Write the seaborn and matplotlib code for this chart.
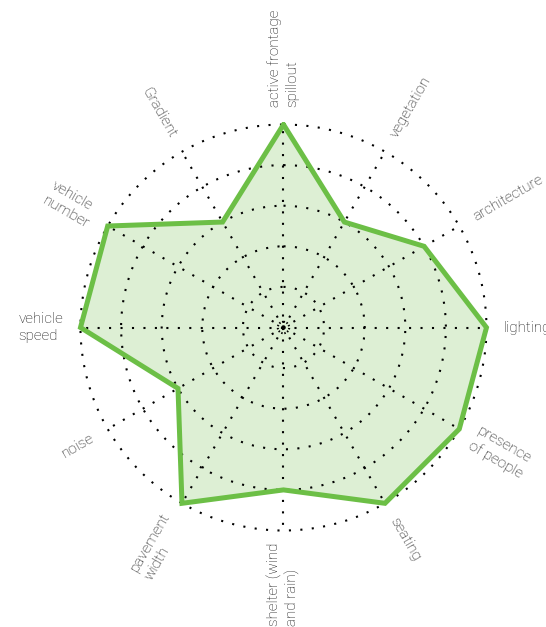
import numpy as np
import matplotlib
matplotlib.use("Agg")
import matplotlib.pyplot as plt
import seaborn as sns

categories = ["active frontage\nspillout", "vegetation", "architecture", "lighting",
              "presence\nof people", "seating", "shelter (wind\nand rain)", "pavement\nwidth",
              "noise", "vehicle\nspeed", "vehicle\nnumber", "Gradient"]
values = [5, 3, 4, 5, 5, 5, 4, 5, 3, 5, 5, 3]
ring_levels = [0.14, 1, 2, 3, 4, 5]

sns.set_theme(style="white")
plt.rcParams["font.family"] = ["Roboto", "DejaVu Sans"]

fig = plt.figure(figsize=(5.46, 6.27), dpi=100)
ax = fig.add_axes([0.1474, 0.1539, 0.7436, 0.6475], projection="polar")
ax.set_theta_zero_location("N")
ax.set_theta_direction(-1)

n = len(categories)
theta = np.linspace(0, 2 * np.pi, n, endpoint=False)
theta_c = np.append(theta, 2 * np.pi)
vals_c = np.append(values, values[0])

ax.set_ylim(0, 5)
ax.set_yticks(ring_levels)
ax.set_yticklabels([])
ax.set_xticks(theta)
ax.set_xticklabels([])
ax.spines["polar"].set_visible(False)
dot = (0, (1, 4.5))
ax.yaxis.grid(True, color="black", linestyle=dot, linewidth=1.5)
ax.xaxis.grid(True, color="black", linestyle=dot, linewidth=1.5)
for gl in ax.yaxis.get_gridlines() + ax.xaxis.get_gridlines():
    gl.set_clip_on(False)
ax.yaxis.get_gridlines()[0].set_linestyle((0, (0.7, 0.8)))

ax.fill(theta_c, vals_c, color="#ddefd4", zorder=1)
sns.lineplot(x=theta_c, y=vals_c, sort=False, estimator=None, ax=ax,
             color="#6cbf46", linewidth=3.6, zorder=3)
for ln in ax.lines:
    ln.set_solid_joinstyle("miter")
    ln.set_clip_on(False)
ax.set_axisbelow(False)

label_r = 5.42
for t, lab in zip(theta, categories):
    a = 90 - np.degrees(t)
    a = (a + 180) % 360 - 180
    if -90 < a <= 90:
        rot, ha = a, "left"
    else:
        rot = a + 180 if a < 0 else a - 180
        rot = (rot + 180) % 360 - 180
        if rot <= -90:
            rot += 180
        ha = "right"
    r = 5.3 if abs(a + 90) < 1 else label_r
    ax.text(t, r, lab, rotation=rot, ha=ha, va="center",
            rotation_mode="anchor", multialignment="left",
            fontsize=11, color="#111111", linespacing=1.25,
            fontweight="light", clip_on=False)

fig.savefig("out.png", dpi=100)
